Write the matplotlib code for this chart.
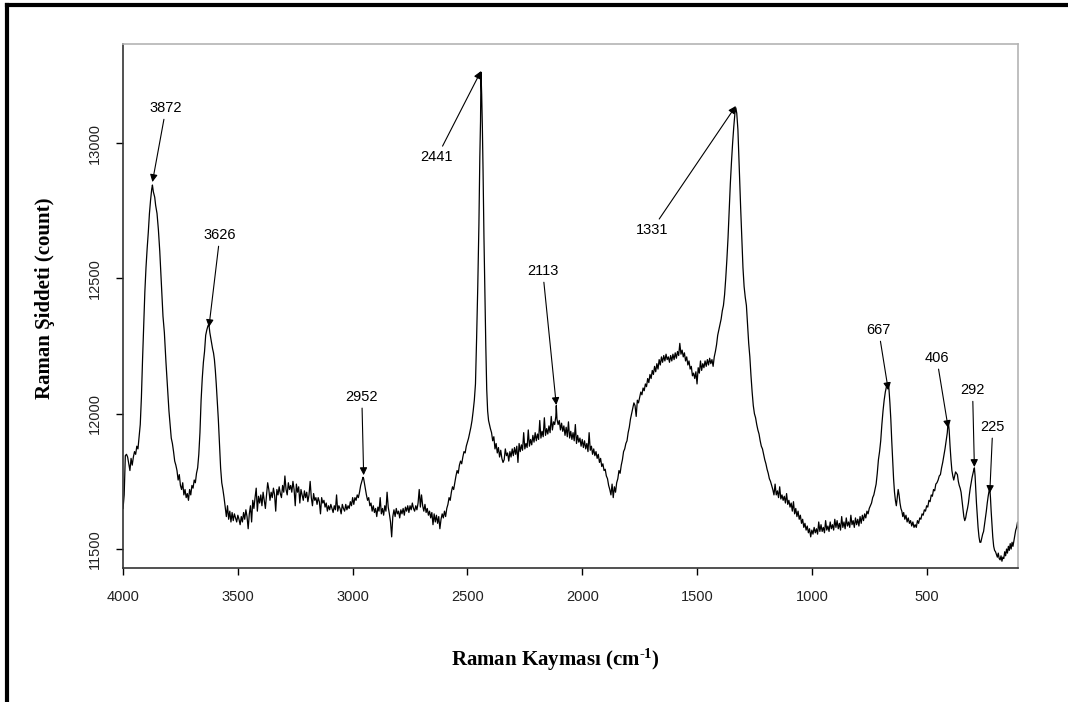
import numpy as np
import matplotlib
matplotlib.use("Agg")
import matplotlib.pyplot as plt
from matplotlib.lines import Line2D

plt.rcParams['font.family'] = ['Liberation Sans', 'DejaVu Sans']
plt.rcParams['mathtext.fontset'] = 'custom'
plt.rcParams['mathtext.rm'] = 'Liberation Serif:bold'
plt.rcParams['mathtext.it'] = 'Liberation Serif:bold'
plt.rcParams['mathtext.bf'] = 'Liberation Serif:bold'

# Raman spektrumu (dalga sayisi, siddet)
spectrum = [
    (4000, 11650), (3995, 11700), (3990, 11845), (3985, 11850), (3980, 11840), (3975, 11815),
    (3970, 11790), (3965, 11835), (3960, 11810), (3955, 11840), (3950, 11860), (3945, 11850),
    (3940, 11880), (3935, 11870), (3930, 11915), (3925, 11960), (3920, 12060), (3915, 12200),
    (3910, 12320), (3905, 12450), (3900, 12540), (3895, 12610), (3890, 12670), (3885, 12740),
    (3880, 12790), (3875, 12830), (3872, 12845), (3868, 12820), (3862, 12800), (3858, 12770),
    (3852, 12740), (3846, 12680), (3840, 12600), (3833, 12480), (3826, 12360), (3820, 12300),
    (3813, 12190), (3806, 12090), (3800, 12010), (3795, 11960), (3790, 11910), (3785, 11890),
    (3780, 11860), (3775, 11825), (3770, 11810), (3765, 11790), (3760, 11755), (3755, 11775),
    (3750, 11735), (3745, 11720), (3740, 11745), (3735, 11700), (3730, 11720), (3725, 11690),
    (3720, 11705), (3715, 11680), (3710, 11720), (3705, 11700), (3700, 11735), (3695, 11725),
    (3690, 11755), (3685, 11745), (3680, 11780), (3675, 11800), (3670, 11850), (3665, 11930),
    (3660, 12050), (3655, 12130), (3650, 12190), (3645, 12230), (3640, 12290), (3635, 12310),
    (3630, 12325), (3626, 12330), (3622, 12300), (3618, 12280), (3614, 12260), (3610, 12240),
    (3606, 12225), (3602, 12200), (3598, 12160), (3594, 12110), (3590, 12050), (3585, 11980),
    (3580, 11890), (3575, 11800), (3570, 11745), (3565, 11720), (3560, 11690), (3555, 11655),
    (3550, 11620), (3545, 11660), (3540, 11610), (3535, 11640), (3530, 11600), (3525, 11635),
    (3520, 11605), (3515, 11630), (3510, 11615), (3505, 11600), (3500, 11625), (3495, 11610),
    (3490, 11590), (3485, 11620), (3480, 11600), (3475, 11635), (3470, 11610), (3465, 11645),
    (3460, 11620), (3455, 11575), (3450, 11630), (3445, 11660), (3440, 11600), (3435, 11680),
    (3430, 11650), (3425, 11690), (3420, 11725), (3415, 11640), (3410, 11695), (3405, 11670),
    (3400, 11700), (3395, 11660), (3390, 11710), (3385, 11680), (3380, 11650), (3375, 11700),
    (3370, 11745), (3365, 11720), (3360, 11680), (3355, 11710), (3350, 11690), (3345, 11725),
    (3340, 11700), (3335, 11640), (3330, 11720), (3325, 11700), (3320, 11730), (3315, 11705),
    (3310, 11690), (3305, 11735), (3300, 11710), (3295, 11770), (3290, 11720), (3285, 11700),
    (3280, 11745), (3275, 11720), (3270, 11735), (3265, 11710), (3260, 11750), (3255, 11720),
    (3250, 11660), (3245, 11740), (3240, 11710), (3235, 11730), (3230, 11670), (3225, 11720),
    (3220, 11700), (3215, 11680), (3210, 11715), (3205, 11690), (3200, 11710), (3195, 11675),
    (3190, 11700), (3185, 11750), (3180, 11690), (3175, 11660), (3170, 11705), (3165, 11680),
    (3160, 11690), (3155, 11665), (3150, 11690), (3145, 11675), (3140, 11630), (3135, 11690),
    (3130, 11670), (3125, 11680), (3120, 11655), (3115, 11670), (3110, 11640), (3105, 11660),
    (3100, 11645), (3095, 11665), (3090, 11650), (3085, 11635), (3080, 11660), (3075, 11645),
    (3070, 11700), (3065, 11640), (3060, 11660), (3055, 11650), (3050, 11630), (3045, 11665),
    (3040, 11650), (3035, 11640), (3030, 11665), (3025, 11645), (3020, 11660), (3015, 11650),
    (3010, 11675), (3005, 11660), (3000, 11690), (2995, 11665), (2990, 11690), (2985, 11680),
    (2980, 11700), (2975, 11690), (2970, 11710), (2965, 11735), (2960, 11750), (2955, 11765),
    (2952, 11760), (2948, 11740), (2944, 11720), (2940, 11700), (2935, 11680), (2930, 11690),
    (2925, 11660), (2920, 11670), (2915, 11640), (2910, 11660), (2905, 11635), (2900, 11650),
    (2895, 11620), (2890, 11655), (2885, 11640), (2880, 11690), (2875, 11630), (2870, 11650),
    (2865, 11625), (2860, 11660), (2855, 11640), (2850, 11710), (2845, 11655), (2840, 11630),
    (2835, 11600), (2830, 11545), (2825, 11620), (2820, 11645), (2815, 11620), (2810, 11650),
    (2805, 11630), (2800, 11640), (2795, 11615), (2790, 11645), (2785, 11630), (2780, 11650),
    (2775, 11625), (2770, 11655), (2765, 11640), (2760, 11660), (2755, 11635), (2750, 11660),
    (2745, 11645), (2740, 11670), (2735, 11650), (2730, 11640), (2725, 11660), (2720, 11645),
    (2715, 11670), (2710, 11720), (2705, 11655), (2700, 11700), (2695, 11660), (2690, 11640),
    (2685, 11665), (2680, 11635), (2675, 11650), (2670, 11625), (2665, 11640), (2660, 11615),
    (2655, 11635), (2650, 11590), (2645, 11630), (2640, 11600), (2635, 11625), (2630, 11595),
    (2625, 11620), (2620, 11575), (2615, 11610), (2610, 11630), (2605, 11615), (2600, 11640),
    (2595, 11620), (2590, 11650), (2585, 11665), (2580, 11690), (2575, 11680), (2570, 11710),
    (2565, 11730), (2560, 11720), (2555, 11745), (2550, 11770), (2545, 11790), (2540, 11780),
    (2535, 11810), (2530, 11825), (2525, 11815), (2520, 11840), (2515, 11860), (2510, 11855),
    (2505, 11880), (2500, 11895), (2495, 11910), (2490, 11930), (2485, 11950), (2480, 11975),
    (2475, 12010), (2470, 12050), (2465, 12110), (2460, 12280), (2455, 12470), (2450, 12700),
    (2446, 12950), (2443, 13080), (2441, 13262), (2438, 13180), (2435, 13060), (2432, 12900),
    (2428, 12650), (2424, 12450), (2420, 12250), (2416, 12090), (2412, 12010), (2408, 11975),
    (2404, 11960), (2400, 11945), (2395, 11930), (2390, 11900), (2385, 11915), (2380, 11870),
    (2375, 11890), (2370, 11855), (2365, 11875), (2360, 11840), (2355, 11865), (2350, 11835),
    (2345, 11820), (2340, 11830), (2335, 11870), (2330, 11845), (2325, 11855), (2320, 11825),
    (2315, 11860), (2310, 11840), (2305, 11870), (2300, 11845), (2295, 11875), (2290, 11850),
    (2285, 11880), (2280, 11820), (2275, 11890), (2270, 11860), (2265, 11885), (2260, 11865),
    (2255, 11930), (2250, 11870), (2245, 11890), (2240, 11875), (2235, 11940), (2230, 11880),
    (2225, 11905), (2220, 11885), (2215, 11920), (2210, 11895), (2205, 11930), (2200, 11900),
    (2195, 11925), (2190, 11905), (2185, 11975), (2180, 11910), (2175, 11935), (2170, 11915),
    (2165, 11985), (2160, 11920), (2155, 11945), (2150, 11925), (2145, 11955), (2140, 11930),
    (2135, 11990), (2130, 11940), (2125, 11970), (2120, 11960), (2115, 11990), (2113, 12030),
    (2110, 11980), (2105, 11960), (2100, 11975), (2095, 11940), (2090, 11965), (2085, 11935),
    (2080, 11955), (2075, 11920), (2070, 11950), (2065, 11915), (2060, 11970), (2055, 11910),
    (2050, 11935), (2045, 11905), (2040, 11930), (2035, 11900), (2030, 11960), (2025, 11890),
    (2020, 11920), (2015, 11895), (2010, 11910), (2005, 11880), (2000, 11905), (1995, 11875),
    (1990, 11900), (1985, 11870), (1980, 11890), (1975, 11860), (1970, 11930), (1965, 11865),
    (1960, 11880), (1955, 11850), (1950, 11870), (1945, 11845), (1940, 11860), (1935, 11835),
    (1930, 11850), (1925, 11820), (1920, 11835), (1915, 11805), (1910, 11815), (1905, 11790),
    (1900, 11795), (1895, 11770), (1890, 11760), (1885, 11735), (1880, 11720), (1875, 11700),
    (1870, 11740), (1865, 11690), (1860, 11730), (1855, 11710), (1850, 11745), (1845, 11760),
    (1840, 11790), (1835, 11780), (1830, 11810), (1825, 11830), (1820, 11860), (1815, 11870),
    (1810, 11890), (1805, 11900), (1800, 11930), (1795, 11950), (1790, 11980), (1785, 12000),
    (1780, 12020), (1775, 12040), (1770, 12030), (1765, 11990), (1760, 12050), (1755, 12040),
    (1750, 12060), (1745, 12080), (1740, 12070), (1735, 12095), (1730, 12085), (1725, 12110),
    (1720, 12100), (1715, 12130), (1710, 12115), (1705, 12145), (1700, 12130), (1695, 12160),
    (1690, 12145), (1685, 12175), (1680, 12155), (1675, 12185), (1670, 12165), (1665, 12200),
    (1660, 12180), (1655, 12210), (1650, 12190), (1645, 12215), (1640, 12195), (1635, 12220),
    (1630, 12200), (1625, 12210), (1620, 12190), (1615, 12215), (1610, 12195), (1605, 12220),
    (1600, 12200), (1595, 12225), (1590, 12205), (1585, 12230), (1580, 12215), (1575, 12260),
    (1570, 12220), (1565, 12235), (1560, 12210), (1555, 12225), (1550, 12195), (1545, 12210),
    (1540, 12180), (1535, 12195), (1530, 12165), (1525, 12175), (1520, 12140), (1515, 12150),
    (1510, 12130), (1505, 12155), (1500, 12110), (1495, 12170), (1490, 12150), (1485, 12195),
    (1480, 12160), (1475, 12185), (1470, 12170), (1465, 12195), (1460, 12175), (1455, 12200),
    (1450, 12180), (1445, 12205), (1440, 12185), (1435, 12200), (1430, 12175), (1425, 12210),
    (1420, 12230), (1415, 12255), (1410, 12290), (1405, 12310), (1400, 12330), (1395, 12350),
    (1390, 12380), (1385, 12400), (1380, 12440), (1375, 12500), (1370, 12570), (1365, 12650),
    (1360, 12750), (1355, 12850), (1350, 12930), (1345, 13000), (1340, 13060), (1335, 13110),
    (1331, 13130), (1327, 13110), (1322, 13050), (1318, 12950), (1314, 12850), (1310, 12760),
    (1305, 12650), (1300, 12540), (1295, 12470), (1290, 12430), (1285, 12400), (1280, 12330),
    (1275, 12260), (1270, 12210), (1265, 12140), (1260, 12080), (1255, 12030), (1250, 12000),
    (1245, 11985), (1240, 11960), (1235, 11940), (1230, 11925), (1225, 11900), (1220, 11880),
    (1215, 11870), (1210, 11850), (1205, 11830), (1200, 11815), (1195, 11795), (1190, 11780),
    (1185, 11760), (1180, 11750), (1175, 11735), (1170, 11720), (1165, 11700), (1160, 11740),
    (1155, 11700), (1150, 11715), (1145, 11690), (1140, 11730), (1135, 11685), (1130, 11700),
    (1125, 11680), (1120, 11695), (1115, 11670), (1110, 11705), (1105, 11665), (1100, 11680),
    (1095, 11655), (1090, 11670), (1085, 11640), (1080, 11675), (1075, 11630), (1070, 11650),
    (1065, 11620), (1060, 11640), (1055, 11610), (1050, 11625), (1045, 11595), (1040, 11610),
    (1035, 11580), (1030, 11595), (1025, 11570), (1020, 11585), (1015, 11560), (1010, 11575),
    (1005, 11545), (1000, 11570), (995, 11555), (990, 11580), (985, 11560), (980, 11575),
    (975, 11555), (970, 11600), (965, 11565), (960, 11590), (955, 11565), (950, 11580),
    (945, 11560), (940, 11605), (935, 11570), (930, 11585), (925, 11565), (920, 11600),
    (915, 11575), (910, 11590), (905, 11570), (900, 11610), (895, 11580), (890, 11605),
    (885, 11575), (880, 11595), (875, 11570), (870, 11620), (865, 11580), (860, 11600),
    (855, 11575), (850, 11615), (845, 11585), (840, 11600), (835, 11580), (830, 11625),
    (825, 11590), (820, 11605), (815, 11580), (810, 11615), (805, 11590), (800, 11610),
    (795, 11585), (790, 11620), (785, 11595), (780, 11625), (775, 11605), (770, 11630),
    (765, 11615), (760, 11640), (755, 11630), (750, 11650), (745, 11660), (740, 11670),
    (735, 11690), (730, 11700), (725, 11720), (720, 11740), (715, 11780), (710, 11830),
    (705, 11860), (700, 11900), (695, 11960), (690, 12010), (685, 12050), (680, 12080),
    (675, 12100), (670, 12110), (667, 12115), (664, 12090), (660, 12040), (656, 11980),
    (652, 11900), (648, 11830), (644, 11760), (640, 11710), (636, 11680), (632, 11660),
    (628, 11690), (624, 11720), (620, 11700), (616, 11670), (612, 11650), (608, 11640),
    (604, 11620), (600, 11635), (595, 11610), (590, 11625), (585, 11600), (580, 11615),
    (575, 11595), (570, 11605), (565, 11585), (560, 11600), (555, 11580), (550, 11590),
    (545, 11580), (540, 11605), (535, 11595), (530, 11615), (525, 11610), (520, 11630),
    (515, 11625), (510, 11645), (505, 11640), (500, 11660), (495, 11655), (490, 11680),
    (485, 11675), (480, 11700), (475, 11695), (470, 11720), (465, 11715), (460, 11740),
    (455, 11745), (450, 11755), (445, 11770), (440, 11775), (435, 11800), (430, 11820),
    (425, 11845), (420, 11870), (415, 11900), (410, 11930), (406, 11975), (402, 11940),
    (398, 11880), (394, 11830), (390, 11790), (386, 11770), (382, 11755), (378, 11770),
    (374, 11785), (370, 11780), (366, 11775), (362, 11750), (358, 11735), (354, 11725),
    (350, 11710), (346, 11680), (342, 11650), (338, 11620), (334, 11605), (330, 11615),
    (326, 11635), (322, 11650), (318, 11670), (314, 11700), (310, 11725), (306, 11745),
    (302, 11765), (298, 11780), (294, 11795), (292, 11800), (289, 11770), (286, 11720),
    (283, 11670), (280, 11630), (276, 11580), (272, 11545), (268, 11525), (264, 11525),
    (260, 11540), (256, 11555), (252, 11565), (248, 11590), (244, 11615), (240, 11640),
    (236, 11670), (232, 11695), (228, 11715), (225, 11725), (222, 11690), (219, 11640),
    (216, 11600), (212, 11545), (208, 11510), (204, 11495), (200, 11490), (196, 11480),
    (192, 11470), (188, 11485), (184, 11465), (180, 11460), (176, 11475), (172, 11455),
    (168, 11470), (164, 11465), (160, 11490), (156, 11475), (152, 11500), (148, 11485),
    (144, 11510), (140, 11495), (136, 11520), (132, 11500), (128, 11525), (124, 11510),
    (120, 11530), (116, 11550), (112, 11570), (108, 11580), (104, 11600), (102, 11580),
]
shift = np.array([p[0] for p in spectrum])
counts = np.array([p[1] for p in spectrum])

# Pik etiketleri
peak_labels = [3872, 3626, 2952, 2441, 2113, 1331, 667, 406, 292, 225]
peak_tip = [12856, 12320, 11773, 13266, 12032, 13137, 12087, 11947, 11803, 11707]
label_x = [3813, 3578, 2960, 2633, 2172, 1697, 709, 456, 300, 212]
label_y = [13129, 12660, 12062, 12948, 12527, 12679, 12309, 12206, 12087, 11951]

xticks = [4000, 3500, 3000, 2500, 2000, 1500, 1000, 500]
yticks = [11500, 12000, 12500, 13000]

fig = plt.figure(figsize=(10.68, 7.02), dpi=100)
ax = fig.add_axes([0.1152, 0.1909, 0.838, 0.7464])

ax.plot(shift, counts, color='black', lw=0.9)

for lab, tip, tx, ty in zip(peak_labels, peak_tip, label_x, label_y):
    ax.annotate(str(lab), xy=(lab, tip), xytext=(tx, ty),
                ha='center', va='center', fontsize=10.5,
                arrowprops=dict(arrowstyle='-|>', color='black', lw=0.8,
                                mutation_scale=11, shrinkA=1, shrinkB=0))

ax.set_xlim(4000, 102)
ax.set_ylim(11430, 13366)
ax.set_xticks(xticks)
ax.set_yticks(yticks)
ax.tick_params(axis='x', direction='out', length=5, width=1, pad=11, labelsize=10.5,
               labelcolor='#222222')
ax.tick_params(axis='y', direction='out', length=5, width=1, pad=10, labelsize=10.5,
               labelrotation=90, labelcolor='#222222')
for lbl in ax.get_yticklabels():
    lbl.set_va('center')

for s in ['left', 'bottom']:
    ax.spines[s].set_color('#333333')
    ax.spines[s].set_linewidth(1.2)
for s in ['top', 'right']:
    ax.spines[s].set_color('#b4b4b4')
    ax.spines[s].set_linewidth(1.2)

fig.text(0.52, 0.06, r'Raman Kayması (cm$^{\text{-1}}$)', ha='center', va='center',
         fontsize=15, fontweight='bold', family='Liberation Serif')
fig.text(0.042, 0.575, 'Raman Şiddeti (count)', ha='center', va='center', rotation=90,
         fontsize=15, fontweight='bold', family='Liberation Serif')

# dis cerceve
fig.add_artist(Line2D([0.0066, 1.0], [0.9929, 0.9929], color='black', lw=3,
                      transform=fig.transFigure))
fig.add_artist(Line2D([0.0066, 0.0066], [0.0, 0.9929], color='black', lw=3,
                      transform=fig.transFigure))

fig.savefig('out.png', dpi=100)
